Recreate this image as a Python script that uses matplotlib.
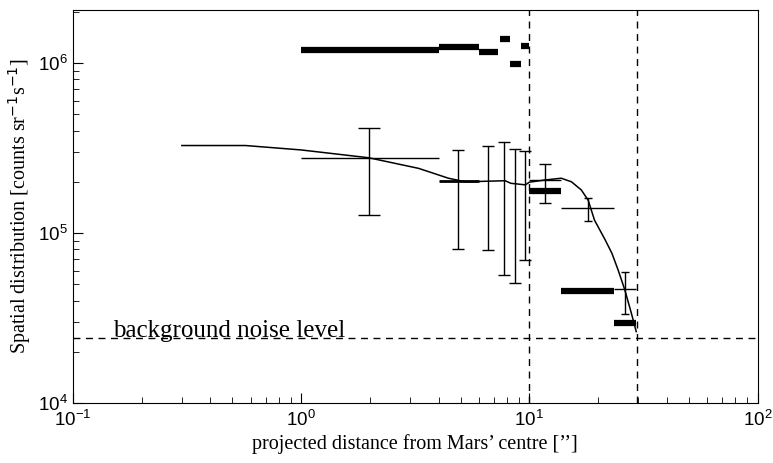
import numpy as np
import matplotlib
matplotlib.use("Agg")
import matplotlib.pyplot as plt

# Upper thick step bars (x-bin edges and values)
top_lo = [1.0, 4.0, 6.0, 7.4, 8.2, 9.2]
top_hi = [4.0, 6.0, 7.3, 8.2, 9.2, 10.0]
top_val = [1.19e6, 1.25e6, 1.16e6, 1.38e6, 0.99e6, 1.26e6]

# Lower thick step bars
low_lo = [10.0, 13.8, 23.5]
low_hi = [13.8, 23.5, 29.2]
low_val = [1.77e5, 4.58e4, 2.97e4]

# Medium bar 4-6
mid_lo = [4.0]
mid_hi = [6.0]
mid_val = [2.03e5]

# Model curve
curve_x = [0.30, 0.57, 1.0, 1.98, 3.27, 4.42, 5.24, 7.83, 8.3, 9.6, 10.0,
           11.7, 13.8, 15.3, 16.9, 18.1, 19.3, 21.5, 23.0, 24.5, 26.2, 28.0, 29.4]
curve_y = [3.27e5, 3.27e5, 3.08e5, 2.77e5, 2.40e5, 2.10e5, 2.00e5, 2.03e5, 1.96e5,
           1.92e5, 1.99e5, 2.05e5, 2.10e5, 2.0e5, 1.79e5, 1.56e5, 1.19e5, 9.1e4,
           7.6e4, 6.05e4, 4.63e4, 3.37e4, 2.63e4]

# Crosses with horizontal extent
cross_x = [1.98, 11.7, 18.0, 26.2]
cross_xlo = [1.0, 10.0, 13.8, 23.5]
cross_xhi = [4.0, 13.8, 23.5, 29.4]
cross_y = [2.77e5, 2.05e5, 1.40e5, 4.67e4]
cross_ylo = [1.28e5, 1.51e5, 1.18e5, 3.34e4]
cross_yhi = [4.13e5, 2.54e5, 1.61e5, 5.92e4]
cross_cap = [8, 4, 3, 3]

# Vertical error bars only
eb_x = [4.85, 6.62, 7.78, 8.66, 9.6]
eb_lo = [8.1e4, 7.94e4, 5.66e4, 5.06e4, 6.93e4]
eb_hi = [3.08e5, 3.25e5, 3.44e5, 3.10e5, 3.03e5]

noise_level = 2.4e4
vlines_x = [10.0, 29.5]

fig = plt.figure(figsize=(7.73, 4.63), dpi=100)
ax = fig.add_axes([0.0944, 0.1296, 0.8856, 0.8488])
ax.set_xscale("log")
ax.set_yscale("log")
ax.set_xlim(0.1, 100)
ax.set_ylim(1e4, 2.05e6)

ax.hlines(top_val, top_lo, top_hi, colors="black", linewidth=4.5)
ax.hlines(low_val, low_lo, low_hi, colors="black", linewidth=4.5)
ax.hlines(mid_val, mid_lo, mid_hi, colors="black", linewidth=2.0)

ax.plot(curve_x, curve_y, color="black", linewidth=1.1)

ax.hlines(cross_y, cross_xlo, cross_xhi, colors="black", linewidth=1.0)
for x, y, ylo, yhi, cs in zip(cross_x, cross_y, cross_ylo, cross_yhi, cross_cap):
    ax.errorbar([x], [y], yerr=[[y - ylo], [yhi - y]], fmt="none", ecolor="black",
                elinewidth=1.0, capsize=cs, capthick=1.0)

ebx = np.array(eb_x)
lo = np.array(eb_lo)
hi = np.array(eb_hi)
mid = np.sqrt(lo * hi)
ax.errorbar(ebx, mid, yerr=[mid - lo, hi - mid], fmt="none", ecolor="black",
            elinewidth=1.0, capsize=4, capthick=1.0)

ax.axhline(noise_level, color="black", linestyle=(0, (5, 4)), linewidth=1.0)
for vx in vlines_x:
    ax.axvline(vx, color="black", linestyle=(0, (5, 4)), linewidth=1.0)

ax.text(0.15, 2.43e4, "background noise level", family="Liberation Serif",
        fontsize=18, color="black", va="baseline")

ax.set_xlabel("projected distance from Mars\u2019 centre [\u2019\u2019]",
              family="Liberation Serif", fontsize=14.5, labelpad=3)
ax.set_ylabel("Spatial distribution [counts sr$^{-1}$s$^{-1}$]",
              family="Liberation Serif", fontsize=14.5, labelpad=4)

ax.tick_params(which="both", direction="in", top=False, right=False,
               labelsize=13.5)
ax.tick_params(axis="x", which="major", pad=5)
ax.tick_params(which="major", length=7)
ax.tick_params(which="minor", length=4)
for lab in ax.get_xticklabels() + ax.get_yticklabels():
    lab.set_family("Liberation Sans")

fig.savefig("out.png", dpi=100)
